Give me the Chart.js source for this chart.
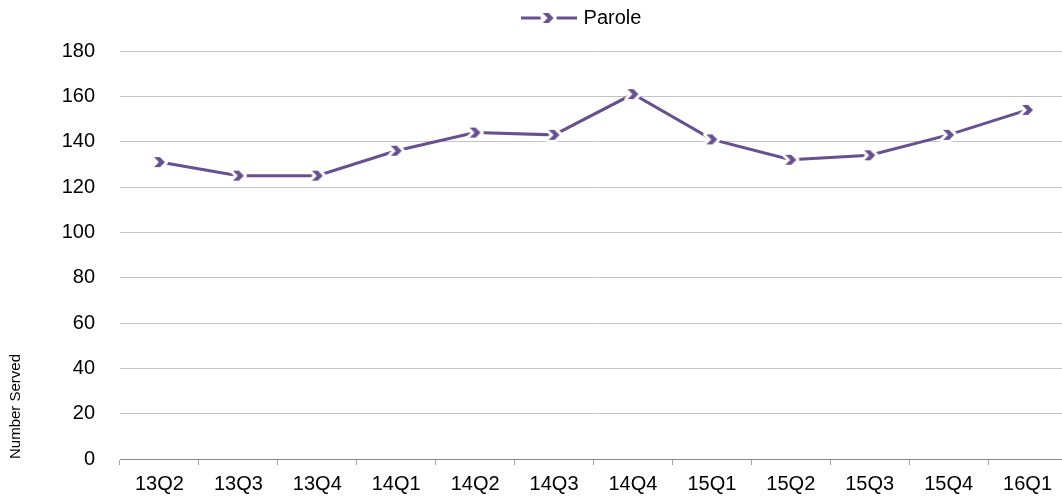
<!DOCTYPE html>
<html>
<head>
<meta charset="utf-8">
<script src="https://cdn.jsdelivr.net/npm/chart.js@4"></script>
<style>
    html, body { margin: 0; padding: 0; background: #fff; overflow: hidden; }
    #wrap { width: 1062px; height: 496px; overflow: hidden; }
</style>
</head>
<body>
<div id="wrap"><canvas id="parole-chart" width="1077" height="496"></canvas></div>
<script>
var quarters = ['13Q2', '13Q3', '13Q4', '14Q1', '14Q2', '14Q3', '14Q4', '15Q1', '15Q2', '15Q3', '15Q4', '16Q1']
var parole = [131, 125, 125, 136, 144, 143, 161, 141, 132, 134, 143, 154]
var purple = '#67508f'

// chevron marker with a white halo, like the original
function chevron() {
    var c = document.createElement('canvas')
    c.width = 19
    c.height = 18
    var g = c.getContext('2d')
    g.beginPath()
    g.moveTo(4, 4)
    g.lineTo(10, 4)
    g.lineTo(15, 9)
    g.lineTo(10, 14)
    g.lineTo(4, 14)
    g.lineTo(9, 9)
    g.closePath()
    g.lineJoin = 'round'
    g.strokeStyle = '#ffffff'
    g.lineWidth = 6
    g.stroke()
    g.fillStyle = purple
    g.fill()
    return c
}

function legendIcon() {
    var c = document.createElement('canvas')
    c.width = 56
    c.height = 18
    var g = c.getContext('2d')
    g.fillStyle = purple
    g.fillRect(0, 7.5, 20, 3)
    g.fillRect(36, 7.5, 20, 3)
    g.drawImage(chevron(), 18, 0)
    return c
}

var marker = chevron()
var icon = legendIcon()

// legend sits right of centre and leaves a gap above the plot
var legendSpacing = {
    id: 'legendSpacing',
    beforeInit: function(chart) {
        var fit = chart.legend.fit
        chart.legend.fit = function() {
            fit.bind(chart.legend)()
            this.height += 13
        }
    },
    afterLayout: function(chart) {
        chart.legend.left += 44
        chart.legend.right += 44
    }
}

new Chart(document.getElementById('parole-chart'), {
    type: 'line',
    data: {
        labels: quarters,
        datasets: [{
            label: 'Parole',
            data: parole,
            borderColor: purple,
            backgroundColor: purple,
            borderWidth: 3,
            pointStyle: marker,
            pointRadius: 7,
            tension: 0
        }]
    },
    plugins: [legendSpacing],
    options: {
        responsive: false,
        animation: false,
        layout: { padding: { left: 0, right: 0, top: 0, bottom: 0 } },
        plugins: {
            legend: {
                position: 'top',
                labels: {
                    usePointStyle: true,
                    pointStyleWidth: 50,
                    color: '#000',
                    font: { family: 'Liberation Sans', size: 20 },
                    padding: 8,
                    generateLabels: function(chart) {
                        return [{
                            text: 'Parole',
                            pointStyle: icon,
                            fillStyle: purple,
                            strokeStyle: purple,
                            lineWidth: 0,
                            datasetIndex: 0
                        }]
                    }
                }
            },
            tooltip: { enabled: false }
        },
        scales: {
            x: {
                offset: true,
                afterFit: function(scale) { scale.height = 37 },
                grid: {
                    offset: true,
                    drawOnChartArea: false,
                    drawTicks: true,
                    tickLength: 6,
                    color: '#a6a6a6'
                },
                border: { display: true, color: '#888888' },
                ticks: {
                    color: '#000',
                    font: { family: 'Liberation Sans', size: 20 },
                    padding: 7,
                    maxRotation: 0,
                    autoSkip: false
                }
            },
            y: {
                min: 0,
                max: 180,
                afterFit: function(scale) { scale.width = 120 },
                ticks: {
                    stepSize: 20,
                    color: '#000',
                    font: { family: 'Liberation Sans', size: 20 },
                    padding: 25
                },
                grid: { color: '#c4c4c4', drawTicks: false },
                border: { display: false },
                title: {
                    display: true,
                    text: 'Number Served',
                    align: 'start',
                    color: '#000',
                    font: { family: 'Liberation Sans', size: 15 },
                    padding: { top: 7, bottom: 0 }
                }
            }
        }
    }
})
</script>
</body>
</html>
